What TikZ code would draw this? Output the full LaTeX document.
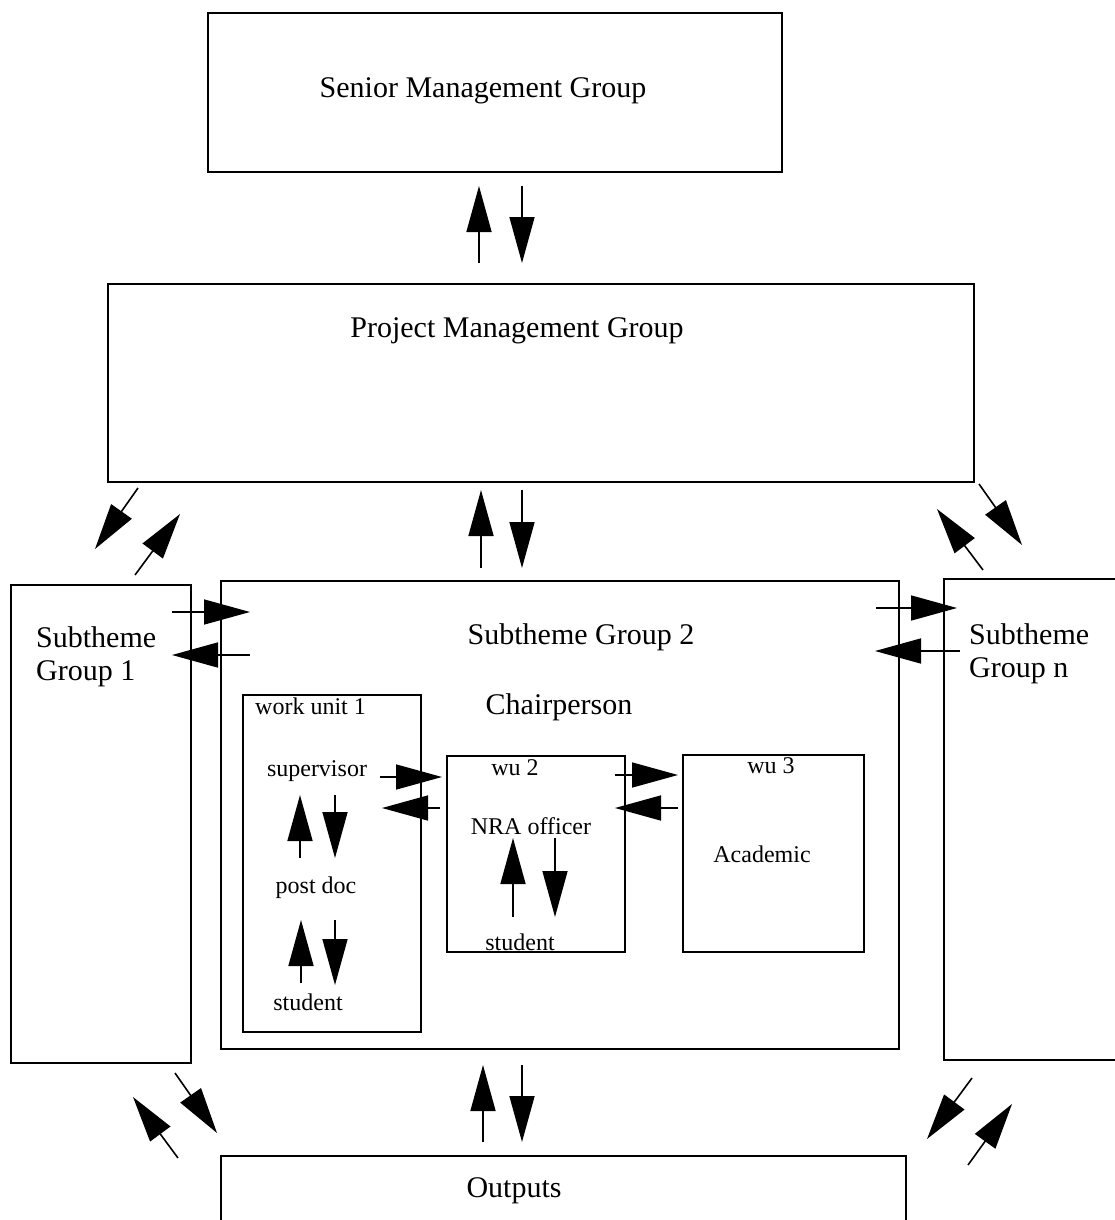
\documentclass[tikz,border=0pt]{standalone}
\usepackage{fontspec}
\setmainfont{Liberation Serif}
\usetikzlibrary{arrows.meta}
\tikzset{
  box/.style={draw, line width=1.6pt, inner sep=0pt, anchor=north west},
  big/.style={font=\fontsize{30}{33}\selectfont, inner sep=0pt},
  small/.style={font=\fontsize{24}{28}\selectfont, inner sep=0pt},
  arr/.style={line width=1.6pt, -{Triangle[length=46pt,width=25pt]}},
}
\begin{document}
\begin{tikzpicture}[x=1pt,y=-1pt]
\useasboundingbox (0,0) rectangle (1114,1220);
% boxes
\node[box, minimum width=574pt, minimum height=159pt] (smg) at (207,12) {};
\node[box, minimum width=866pt, minimum height=198pt] (pmg) at (107,283) {};
\node[box, minimum width=180pt, minimum height=478pt] (sg1) at (10,584) {};
\node[box, minimum width=678pt, minimum height=468pt] (sg2) at (220,580) {};
\draw[line width=1.6pt] (1120,579) coordinate (sgnTR) -- (944,579) -- (944,1060) -- (1120,1060);
\node[box, minimum width=178pt, minimum height=337pt] (wu1) at (242,694) {};
\node[box, minimum width=178pt, minimum height=196pt] (wu2) at (446,755) {};
\node[box, minimum width=181pt, minimum height=197pt] (wu3) at (682,754) {};
\draw[line width=1.6pt] (221,1230) -- (221,1156) -- (906,1156) -- (906,1230);
% texts
\node[big, anchor=base] (tsmg) at (483,98) {Senior Management Group};
\node[big, anchor=base] (tpmg) at (517,337) {Project Management Group};
\node[big, anchor=base west, align=left] (tsg1) at (36,680) {Subtheme\\Group 1};
\node[big, anchor=base] (tsg2) at (581,644) {Subtheme Group 2};
\node[big, anchor=base] (tchair) at (559,714) {Chairperson};
\node[big, anchor=base west, align=left] (tsgn) at (969,677) {Subtheme\\Group n};
\node[big, anchor=base] (tout) at (514,1197) {Outputs};
\node[small, anchor=base west] (twu1) at (255,714) {work unit 1};
\node[small, anchor=base] (tsup) at (317,776) {supervisor};
\node[small, anchor=base] (tpd) at (316,893) {post doc};
\node[small, anchor=base] (tst1) at (308,1010) {student};
\node[small, anchor=base] (twu2) at (515,775) {wu 2};
\node[small, anchor=base] (tnra) at (531,834) {NRA officer};
\node[small, anchor=base] (tst2) at (520,950) {student};
\node[small, anchor=base] (twu3) at (771,773) {wu 3};
\node[small, anchor=base] (tacad) at (762,862) {Academic};
% arrow end coordinates
\coordinate (a1s) at (479,263); \coordinate (a1e) at (479,186);
\coordinate (a2s) at (522,186); \coordinate (a2e) at (522,263);
\coordinate (b1s) at (481,568); \coordinate (b1e) at (481,490);
\coordinate (b2s) at (522,490); \coordinate (b2e) at (522,568);
\coordinate (c1s) at (138,488); \coordinate (c1e) at (95,549);
\coordinate (c2s) at (135,575); \coordinate (c2e) at (180,514);
\coordinate (d1s) at (979,484); \coordinate (d1e) at (1022,545);
\coordinate (d2s) at (983,570); \coordinate (d2e) at (937,509);
\coordinate (e1s) at (172,612); \coordinate (e1e) at (250,612);
\coordinate (e2s) at (250,655); \coordinate (e2e) at (172,655);
\coordinate (f1s) at (876,608); \coordinate (f1e) at (957,608);
\coordinate (f2s) at (960,651); \coordinate (f2e) at (875,651);
\coordinate (g1s) at (300,858); \coordinate (g1e) at (300,795);
\coordinate (g2s) at (335,795); \coordinate (g2e) at (335,858);
\coordinate (h1s) at (301,983); \coordinate (h1e) at (301,920);
\coordinate (h2s) at (335,920); \coordinate (h2e) at (335,985);
\coordinate (i1s) at (380,777); \coordinate (i1e) at (442,777);
\coordinate (i2s) at (440,808); \coordinate (i2e) at (382,808);
\coordinate (j1s) at (615,775); \coordinate (j1e) at (678,775);
\coordinate (j2s) at (678,808); \coordinate (j2e) at (615,808);
\coordinate (k1s) at (513,917); \coordinate (k1e) at (513,838);
\coordinate (k2s) at (555,838); \coordinate (k2e) at (555,917);
\coordinate (l1s) at (483,1142); \coordinate (l1e) at (483,1065);
\coordinate (l2s) at (522,1065); \coordinate (l2e) at (522,1142);
\coordinate (m1s) at (178,1158); \coordinate (m1e) at (133,1097);
\coordinate (m2s) at (175,1073); \coordinate (m2e) at (217,1133);
\coordinate (n1s) at (972,1078); \coordinate (n1e) at (927,1139);
\coordinate (n2s) at (968,1165); \coordinate (n2e) at (1012,1104);
\foreach \p in {a1,a2,b1,b2,c1,c2,d1,d2,e1,e2,f1,f2,g1,g2,h1,h2,i1,i2,j1,j2,k1,k2,l1,l2,m1,m2,n1,n2}
  \draw[arr] (\p s) -- (\p e);
\end{tikzpicture}
\end{document}
